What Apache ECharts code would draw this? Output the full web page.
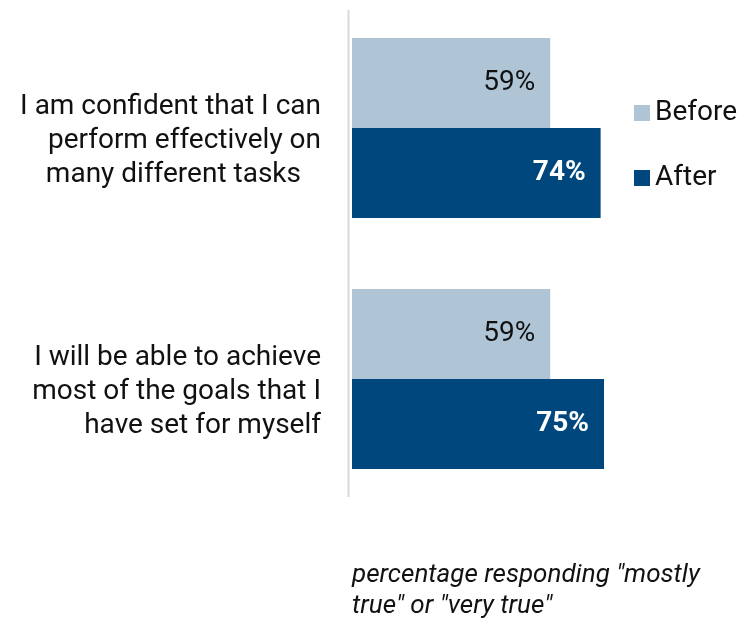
<!DOCTYPE html>
<html>
<head>
<meta charset="utf-8">
<script src="https://cdn.jsdelivr.net/npm/echarts@6/dist/echarts.min.js"></script>
<style>
  html, body { margin: 0; padding: 0; background: #fff; }
  #chart { width: 742px; height: 619px; }
</style>
</head>
<body>
<div id="chart"></div>
<script>
// Survey statements (top to bottom)
const categories = [
  'I am confident that I can\nperform effectively on\n{last|many different tasks}',
  'I will be able to achieve\nmost of the goals that I\nhave set for myself'
];
const seriesNames = ['Before', 'After'];
const beforeValues = [59, 59];
const afterValues = [74, 75];
const footnote = 'percentage responding "mostly\ntrue" or "very true"';

const FONT = 'Roboto, "Noto Sans", sans-serif';
const LIGHT = '#AFC5D6';
const DARK = '#00477E';

const chart = echarts.init(document.getElementById('chart'), null, { renderer: 'canvas' });

chart.setOption({
  animation: false,
  backgroundColor: '#ffffff',
  textStyle: { fontFamily: FONT },
  grid: { left: 352, top: 2.5, width: 336, height: 502, containLabel: false },
  legend: {
    orient: 'vertical',
    left: 634,
    top: 99,
    padding: 0,
    itemWidth: 16,
    itemHeight: 16,
    itemGap: 37,
    icon: 'rect',
    data: seriesNames,
    textStyle: { fontFamily: FONT, fontSize: 28, color: '#111' }
  },
  xAxis: {
    type: 'value',
    min: 0,
    max: 100,
    show: false
  },
  yAxis: {
    type: 'category',
    inverse: true,
    data: categories,
    axisLine: { show: false },
    axisTick: { show: false },
    axisLabel: {
      margin: 31,
      align: 'right',
      fontFamily: FONT,
      fontSize: 28,
      lineHeight: 34,
      color: '#111',
      padding: [26, 0, 0, 0],
      rich: {
        last: { fontFamily: FONT, fontSize: 28, lineHeight: 34, color: '#111', padding: [0, 20, 0, 0] }
      }
    }
  },
  series: [
    {
      name: seriesNames[0],
      type: 'bar',
      data: beforeValues,
      barWidth: 90,
      barGap: '0%',
      itemStyle: { color: LIGHT },
      label: {
        show: true,
        position: 'insideRight',
        distance: 15,
        formatter: '{c}%',
        fontFamily: FONT,
        fontSize: 28,
        color: '#111'
      }
    },
    {
      name: seriesNames[1],
      type: 'bar',
      data: afterValues,
      barWidth: 90,
      barGap: '0%',
      itemStyle: { color: DARK },
      label: {
        show: true,
        position: 'insideRight',
        distance: 15,
        formatter: '{c}%',
        fontFamily: FONT,
        fontSize: 28,
        fontWeight: 'bold',
        color: '#ffffff'
      }
    }
  ],
  graphic: [
    {
      type: 'line',
      shape: { x1: 348.5, y1: 10, x2: 348.5, y2: 497 },
      style: { stroke: '#D9D9D9', lineWidth: 2 },
      silent: true
    },
    {
      type: 'text',
      left: 352,
      top: 560,
      style: {
        text: footnote,
        fontFamily: FONT,
        fontSize: 26,
        fontStyle: 'italic',
        lineHeight: 31,
        fill: '#111'
      },
      silent: true
    }
  ]
});
</script>
</body>
</html>
